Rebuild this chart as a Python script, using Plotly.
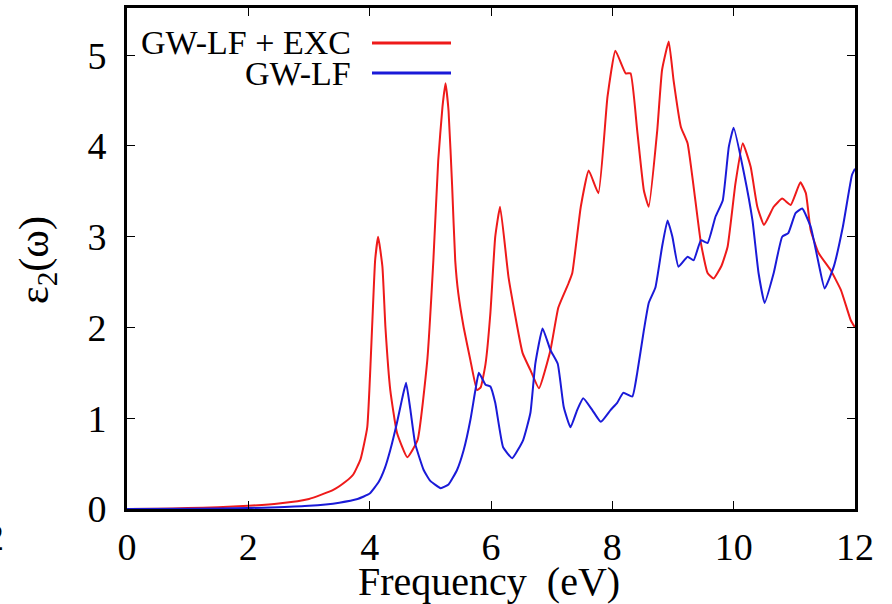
import plotly.graph_objects as go

# GW-LF + EXC (red)
exc_x = [0, 0.5, 1, 1.5, 2, 2.5, 3, 3.4, 3.6, 3.73, 3.85, 3.96, 4.04, 4.09, 4.14, 4.21, 4.26, 4.34, 4.45,
         4.62, 4.79, 4.95, 5.05, 5.13, 5.2, 5.25, 5.3, 5.36, 5.41, 5.46, 5.55, 5.66, 5.77, 5.83, 5.91,
         5.99, 6.07, 6.15, 6.29, 6.52, 6.65, 6.79, 6.98, 7.11, 7.28, 7.34, 7.48, 7.61, 7.77, 7.92, 8.05,
         8.22, 8.3, 8.41, 8.52, 8.6, 8.74, 8.82, 8.93, 9.01, 9.13, 9.24, 9.34, 9.46, 9.57, 9.67, 9.8,
         9.9, 10.03, 10.15, 10.28, 10.39, 10.5, 10.66, 10.8, 10.94, 11.1, 11.19, 11.27, 11.4, 11.6,
         11.77, 11.93, 12.0]
exc_y = [0, 0.003, 0.01, 0.02, 0.035, 0.06, 0.11, 0.21, 0.3, 0.38, 0.55, 0.9, 2.0, 2.74, 3.0, 2.67, 2.0,
         1.31, 0.84, 0.57, 0.76, 1.64, 2.74, 3.84, 4.43, 4.69, 4.39, 3.55, 2.74, 2.38, 2.0, 1.64, 1.31,
         1.34, 1.6, 2.16, 3.0, 3.33, 2.55, 1.72, 1.53, 1.33, 1.75, 2.22, 2.49, 2.6, 3.33, 3.73, 3.48,
         4.54, 5.05, 4.8, 4.8, 4.17, 3.51, 3.33, 4.17, 4.84, 5.15, 4.72, 4.21, 4.03, 3.55, 2.93, 2.6,
         2.54, 2.68, 2.89, 3.59, 4.03, 3.77, 3.33, 3.13, 3.33, 3.42, 3.35, 3.6, 3.48, 3.07, 2.82, 2.63,
         2.41, 2.08, 2.0]

# GW-LF (blue)
lf_x = [0, 1, 2, 2.5, 3, 3.5, 3.8, 4.0, 4.15, 4.25, 4.34, 4.45, 4.53, 4.6, 4.67, 4.75, 4.89, 5.0, 5.17,
        5.3, 5.44, 5.55, 5.66, 5.74, 5.8, 5.91, 5.99, 6.07, 6.2, 6.35, 6.53, 6.65, 6.73, 6.85, 6.98,
        7.1, 7.2, 7.31, 7.42, 7.52, 7.67, 7.81, 7.97, 8.08, 8.18, 8.33, 8.41, 8.52, 8.6, 8.71, 8.82,
        8.91, 8.99, 9.09, 9.24, 9.34, 9.46, 9.57, 9.7, 9.82, 9.92, 10.0, 10.17, 10.31, 10.41, 10.51,
        10.66, 10.8, 10.9, 11.02, 11.13, 11.27, 11.39, 11.5, 11.65, 11.8, 11.95, 12.0]
lf_y = [0, 0.003, 0.01, 0.02, 0.035, 0.07, 0.11, 0.17, 0.3, 0.45, 0.65, 0.95, 1.2, 1.39, 1.1, 0.72,
        0.43, 0.31, 0.23, 0.27, 0.43, 0.65, 0.98, 1.3, 1.5, 1.37, 1.35, 1.17, 0.68, 0.56, 0.76, 1.06,
        1.6, 1.99, 1.75, 1.6, 1.12, 0.9, 1.09, 1.22, 1.09, 0.96, 1.09, 1.17, 1.28, 1.24, 1.5, 1.97,
        2.27, 2.44, 2.89, 3.18, 3.0, 2.67, 2.78, 2.74, 2.96, 2.93, 3.22, 3.4, 3.99, 4.2, 3.7, 3.18,
        2.6, 2.27, 2.6, 3.0, 3.04, 3.26, 3.31, 3.11, 2.74, 2.43, 2.67, 3.11, 3.68, 3.75]

x_ticks = [0, 2, 4, 6, 8, 10, 12]
y_ticks = [0, 1, 2, 3, 4, 5]
series_names = ["GW-LF + EXC", "GW-LF"]
RED = "#ee1a1a"
BLUE = "#1a1ad8"
FONT = "Liberation Serif"

fig = go.Figure()
fig.add_trace(go.Scatter(x=exc_x, y=exc_y, mode="lines", name=series_names[0],
                         line=dict(color=RED, width=2, shape="spline", smoothing=0.4)))
fig.add_trace(go.Scatter(x=lf_x, y=lf_y, mode="lines", name=series_names[1],
                         line=dict(color=BLUE, width=2, shape="spline", smoothing=0.4)))

W, H = 892, 604
L, R, T, B = 127, 37, 8, 95
pw, ph = W - L - R, H - T - B

def px(x):
    return (x - L) / pw

def py(y):
    return (H - B - y) / ph

axis_common = dict(showline=True, linecolor="black", linewidth=3, mirror="ticks",
                   ticks="inside", ticklen=8, tickwidth=1.2, tickcolor="black",
                   showgrid=False, zeroline=False,
                   tickfont=dict(family=FONT, size=38, color="black"))

fig.update_layout(
    width=W, height=H,
    margin=dict(l=L, r=R, t=T, b=B, autoexpand=False),
    plot_bgcolor="white", paper_bgcolor="white",
    showlegend=False,
    xaxis=dict(range=[0, 12], tickvals=x_ticks, ticklabelstandoff=2, **axis_common),
    yaxis=dict(range=[0, 5.52], tickvals=y_ticks, ticklabelstandoff=10, **axis_common),
)

# legend (text left of sample line, gnuplot style)
leg_y = [43, 73]
for name, color, yy in zip(series_names, [RED, BLUE], leg_y):
    fig.add_annotation(xref="paper", yref="paper", x=px(353), y=py(yy), xanchor="right",
                       yanchor="middle", text=name, showarrow=False,
                       font=dict(family=FONT, size=34, color="black"))
    fig.add_shape(type="line", xref="paper", yref="paper", x0=px(372), x1=px(451),
                  y0=py(yy), y1=py(yy), line=dict(color=color, width=3))

# axis titles
fig.add_annotation(xref="paper", yref="paper", x=px(489), y=py(581), xanchor="center",
                   yanchor="middle", text="Frequency\u00a0\u00a0(eV)", showarrow=False,
                   font=dict(family=FONT, size=40, color="black"))
fig.add_annotation(xref="paper", yref="paper", x=px(37), y=py(260), xanchor="center",
                   yanchor="middle", text="ε<sub>2</sub>(ω)", textangle=-90, showarrow=False,
                   font=dict(family=FONT, size=42, color="black"))
# clipped label from neighbouring panel at the far left edge
fig.add_annotation(xref="paper", yref="paper", x=px(6), y=py(537), xanchor="right",
                   yanchor="middle", text="2", showarrow=False,
                   font=dict(family=FONT, size=38, color="black"))

fig.write_html("out.html", config={"displayModeBar": False},
               post_script="document.body.style.margin='0';document.body.style.overflow='hidden';")
